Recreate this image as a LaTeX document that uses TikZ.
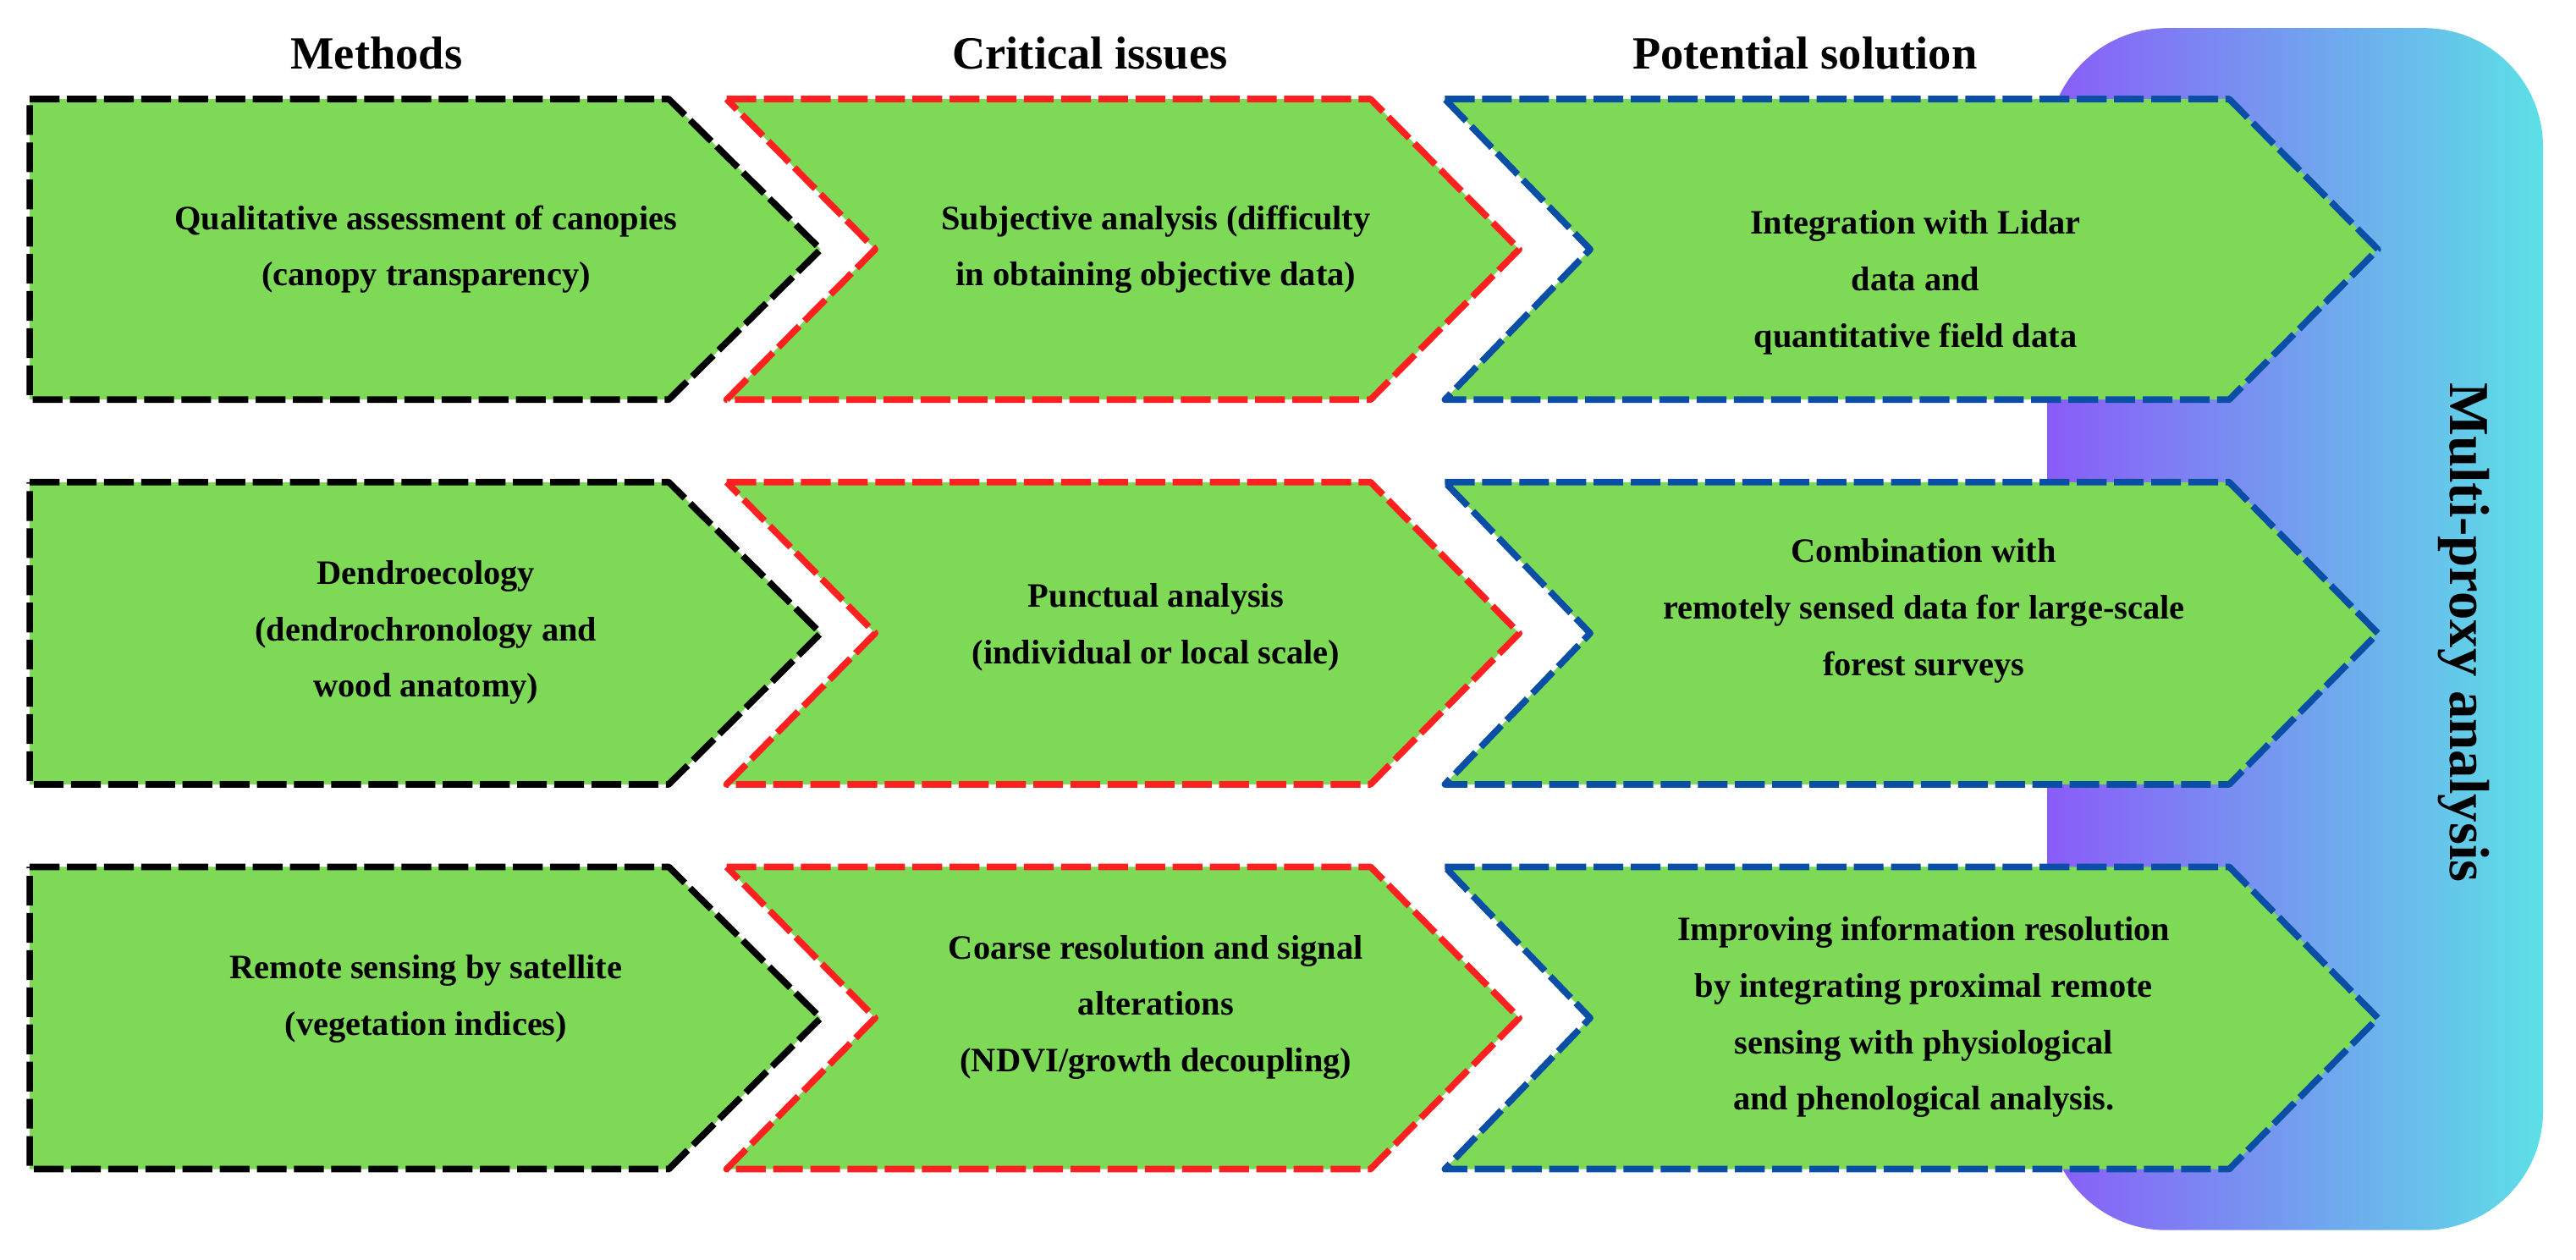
\documentclass[tikz,border=0pt]{standalone}
\usepackage{fontspec}
\setmainfont{Liberation Serif}
\begin{document}
\begin{tikzpicture}[x=0.019513cm,y=-0.019513cm,
  box/.style={fill=boxgreen,line width=2.2pt,dash pattern=on 10pt off 2.5pt,line join=round},
  txt/.style={font=\bfseries\fontsize{11.5}{19}\selectfont,align=center,text=black},
  hdr/.style={font=\bfseries\fontsize{15.5}{18}\selectfont}]
\definecolor{boxgreen}{HTML}{7ED957}
\definecolor{bred}{HTML}{FF2121}
\definecolor{bblue}{HTML}{0A4EA6}
\definecolor{gpurple}{HTML}{8A5CF8}
\definecolor{gcyan}{HTML}{5CE0E6}
\useasboundingbox (0,0) rectangle (1560,762.6);
% gradient panel
\shade[left color=gpurple,right color=gcyan,rounded corners=40pt] (1240,17) rectangle (1540,745);
\node[hdr] (h1) at (228,32) {Methods};
\node[hdr] (h2) at (660,32) {Critical issues};
\node[hdr] (h3) at (1093,32) {Potential solution};
\foreach \t/\b/\r in {60/242/1,292/475/2,525/708/3}{
  \pgfmathsetmacro{\m}{(\t+\b)/2}
  \draw[box,draw=black] (18,\t) -- (405,\t) -- (497,\m) -- (405,\b) -- (18,\b) -- cycle;
  \draw[box,draw=bred] (440,\t) -- (830,\t) -- (920,\m) -- (830,\b) -- (440,\b) -- (530,\m) -- cycle;
  \draw[box,draw=bblue] (875,\t) -- (1350,\t) -- (1440,\m) -- (1350,\b) -- (875,\b) -- (963,\m) -- cycle;
}
\node[txt] (a1) at (258,151) {Qualitative assessment of canopies\\(canopy transparency)};
\node[txt] (b1) at (700,151) {Subjective analysis (difficulty\\in obtaining objective data)};
\node[txt] (c1) at (1160,171) {Integration with Lidar\\data and\\quantitative field data};
\node[txt] (a2) at (258,383) {Dendroecology\\(dendrochronology and\\wood anatomy)};
\node[txt] (b2) at (700,380) {Punctual analysis\\(individual or local scale)};
\node[txt] (c2) at (1165,370) {Combination with\\remotely sensed data for large-scale\\forest surveys};
\node[txt] (a3) at (258,605) {Remote sensing by satellite\\(vegetation indices)};
\node[txt] (b3) at (700,610) {Coarse resolution and signal\\alterations\\(NDVI/growth decoupling)};
\node[txt] (c3) at (1165,616) {Improving information resolution\\by integrating proximal remote\\sensing with physiological\\and phenological analysis.};
\node[font=\bfseries\fontsize{19}{22}\selectfont,rotate=-90] (mp) at (1492,383) {Multi-proxy analysis};
\end{tikzpicture}
\end{document}
